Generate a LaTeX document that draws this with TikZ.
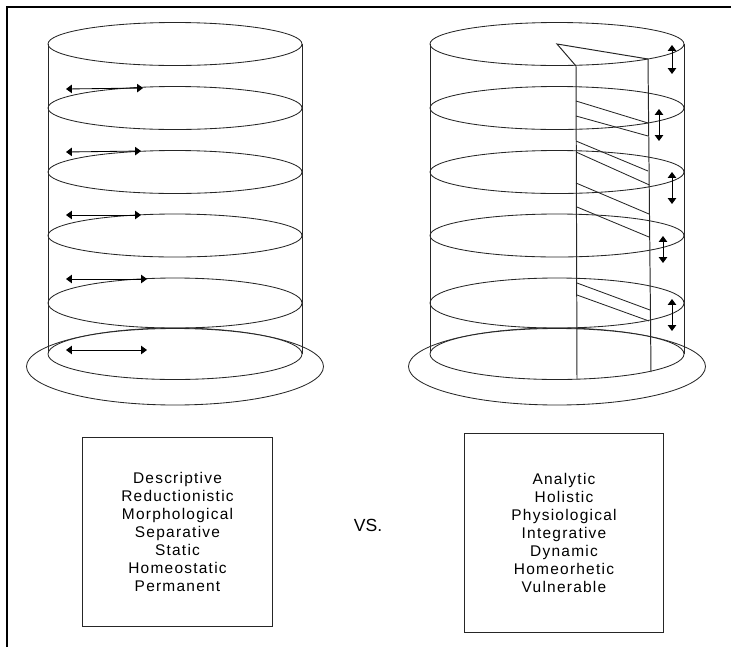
\documentclass[tikz,border=0pt]{standalone}
\usepackage{fontspec}
\setmainfont{Liberation Sans}
\newfontfamily\listfont[LetterSpace=8]{Liberation Sans}
\usetikzlibrary{arrows.meta}
\tikzset{
    disc/.style={draw=black!85, line width=0.6pt},
    wall/.style={draw=black!85, line width=0.7pt},
    flow/.style={{Triangle[length=4.2pt,width=6pt]}-{Triangle[length=4.2pt,width=6pt]}, line width=0.6pt},
    listbox/.style={draw=black!85, line width=0.7pt, align=center, font=\listfont\fontsize{11}{12.8}\selectfont, inner sep=0pt}
}
\begin{document}
\begin{tikzpicture}[x=0.025cm,y=-0.025cm]
    \useasboundingbox (0,0) rectangle (731,647);

    % the frame
    \draw[line width=1.9pt] (7,647) -- (7,7) -- (731,7);

    % the left cylinder
    \draw[wall] (48,44) -- (48,354);
    \draw[wall] (302,44) -- (302,354);
    \draw[disc] (175,366.5) ellipse (148.5 and 38.5);
    \draw[disc] (175,44) ellipse (127 and 21.5);
    \draw[disc] (175,108) ellipse (127 and 21.5);
    \draw[disc] (175,172) ellipse (127 and 21.5);
    \draw[disc] (175,235.5) ellipse (127 and 21.5);
    \draw[disc] (175,303) ellipse (127 and 25);
    \draw[disc, fill=white] (175,354) ellipse (127 and 25.5);

    % the right cylinder
    \draw[wall] (430,44) -- (430,354);
    \draw[wall] (684,44) -- (684,354);
    \draw[disc] (557,366.5) ellipse (148.5 and 38.5);
    \draw[disc] (557,44) ellipse (127 and 21.5);
    \draw[disc] (557,108) ellipse (127 and 21.5);
    \draw[disc] (557,172) ellipse (127 and 21.5);
    \draw[disc] (557,235.5) ellipse (127 and 21.5);
    \draw[disc] (557,303) ellipse (127 and 25);
    \draw[disc, fill=white] (557,354) ellipse (127 and 25.5);

    % the slit in the right cylinder
    \draw[wall] (648,59) -- (557,44) -- (576,66) -- (577,379);
    \draw[wall] (648,59) -- (651,372);

    % the bars across the slit
    \foreach \xa/\ya/\xb/\yb in {576/101/648/123, 576/116/648/136, 576/141/648/171, 576/152/649.5/185,
                                 576/183/649/214, 577/207/649/237, 577/283/650/310, 577/295/649/321}
        \draw[disc] (\xa,\ya) -- (\xb,\yb);

    % the points for the arrows
    \coordinate (l1a) at (66,89);
    \coordinate (l1b) at (143,88);
    \coordinate (l2a) at (66,152);
    \coordinate (l2b) at (141,151);
    \coordinate (l3a) at (66,215);
    \coordinate (l3b) at (141,215);
    \coordinate (l4a) at (66,279);
    \coordinate (l4b) at (147,279);
    \coordinate (l5a) at (66,350);
    \coordinate (l5b) at (147,350);
    %
    \coordinate (r1a) at (672,45);
    \coordinate (r1b) at (672,74);
    \coordinate (r2a) at (659,109);
    \coordinate (r2b) at (659,141);
    \coordinate (r3a) at (672,172);
    \coordinate (r3b) at (672,204);
    \coordinate (r4a) at (663,236);
    \coordinate (r4b) at (663,263);
    \coordinate (r5a) at (672,299);
    \coordinate (r5b) at (672,331);

    % draw the arrows
    \foreach \n in {l1,l2,l3,l4,l5,r1,r2,r3,r4,r5}
        \draw[flow] (\n a) -- (\n b);

    % the boxes and the texts
    \node[listbox, minimum width=135.8pt, minimum height=135pt] (descr) at (177.5,532) {Descriptive\\Reductionistic\\Morphological\\Separative\\Static\\Homeostatic\\Permanent};
    \node[listbox, minimum width=142pt, minimum height=141.5pt] (analy) at (564,532.5) {Analytic\\Holistic\\Physiological\\Integrative\\Dynamic\\Homeorhetic\\Vulnerable};
    \node[font=\fontsize{12.5}{14}\selectfont] (versus) at (368,525) {VS.};
\end{tikzpicture}
\end{document}
